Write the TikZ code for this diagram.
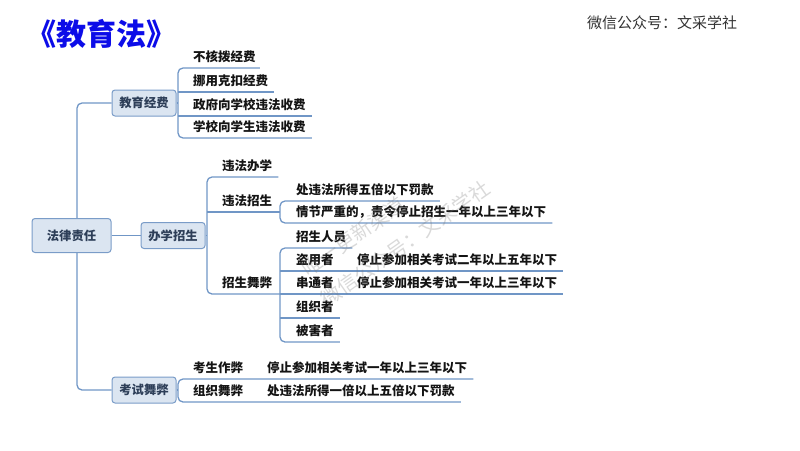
\documentclass[tikz,border=0pt]{standalone}
\usepackage{fontspec}
\setmainfont{Noto Sans CJK SC}
\usetikzlibrary{backgrounds}
\definecolor{linec}{RGB}{112,150,198}
\definecolor{boxfill}{RGB}{219,229,241}
\definecolor{boxdraw}{RGB}{122,156,200}
\definecolor{boxtext}{RGB}{45,62,88}
\definecolor{titleblue}{RGB}{12,12,232}
\definecolor{wmgray}{RGB}{120,120,120}
\begin{document}
\begin{tikzpicture}[x=1pt,y=-1pt,
  box/.style={draw=boxdraw, fill=boxfill, rounded corners=3pt, line width=1pt,
    font=\bfseries\fontsize{12.3}{14}\selectfont, text=boxtext,
    minimum width=64pt, minimum height=26pt, inner sep=0pt},
  rootbox/.style={box, minimum width=79pt, minimum height=34pt},
  kid/.style={anchor=south west, inner sep=0pt, text depth=6.25pt,
    font=\bfseries\fontsize{12.5}{14}\selectfont, text=black!92},
  link/.style={draw=linec, line width=1.3pt},
  bracket/.style={link, rounded corners=5pt},
  wm/.style={anchor=west, rotate=35, inner sep=0pt,
    font=\fontsize{20}{24}\selectfont, text=wmgray, opacity=0.28}]
\useasboundingbox (0,0) rectangle (800,450);

% titles
\node[font=\bfseries\fontsize{30}{34}\selectfont, text=titleblue] (title) at (101,34) {《教育法》};
\node[font=\fontsize{15}{18}\selectfont, text=black!80] (wx) at (662,22.5) {微信公众号：文采学社};

% main boxes
\node[rootbox] (root) at (71.5,235.5) {法律责任};
\node[box] (jy) at (144,103) {教育经费};
\node[box] (bx) at (173,235.5) {办学招生};
\node[box] (ks) at (144,390) {考试舞弊};

% 教育经费
\node[kid] (j1) at (193,68) {不核拨经费};
\node[kid] (j2) at (193,92) {挪用克扣经费};
\node[kid] (j3) at (193,116) {政府向学校违法收费};
\node[kid] (j4) at (193,138) {学校向学生违法收费};

% 办学招生
\node[kid] (b1) at (222,177) {违法办学};
\node[kid] (b2) at (222,212) {违法招生};
\node[kid] (b3) at (222,294) {招生舞弊};

\node[kid] (c1) at (296,201) {处违法所得五倍以下罚款};
\node[kid] (c2) at (296,223) {情节严重的，责令停止招生一年以上三年以下};

\node[kid] (d1) at (296,248) {招生人员};
\node[kid] (d2) at (296,271) {盗用者};
\node[kid] (d2r) at (357,271) {停止参加相关考试二年以上五年以下};
\node[kid] (d3) at (296,294) {串通者};
\node[kid] (d3r) at (357,294) {停止参加相关考试一年以上三年以下};
\node[kid] (d4) at (296,318) {组织者};
\node[kid] (d5) at (296,342) {被害者};

% 考试舞弊
\node[kid] (k1) at (193,379) {考生作弊};
\node[kid] (k1r) at (267,379) {停止参加相关考试一年以上三年以下};
\node[kid] (k2) at (193,402) {组织舞弊};
\node[kid] (k2r) at (267,402) {处违法所得一倍以上五倍以下罚款};

% watermark
\node[wm] (w1) at (304,271) {唯一更新渠道};
\node[wm] (w2) at (323,301) {微信公众号：文采学社};

\begin{scope}[on background layer]
  % trunk
  \coordinate (tk) at (77,235.5);
  \draw[bracket] (jy.west) -| (tk) |- (ks.west);
  \draw[link] (root.east) -- (bx.west);

  % 教育经费 bracket
  \coordinate (jb) at ([xshift=-15pt]j1.south west);
  \draw[bracket] ([xshift=4pt]j1.south east) -- (jb) -- (jb |- j4.south west) -- ([xshift=6pt]j4.south east);
  \draw[link] (jb |- j2.south west) -- ([xshift=6pt]j2.south east);
  \draw[link] (jb |- j3.south west) -- ([xshift=6pt]j3.south east);
  \draw[link] (jy.east) -- (jy.east -| jb);

  % 办学招生 bracket
  \coordinate (bb) at ([xshift=-15pt]b1.south west);
  \coordinate (cb) at ([xshift=-16pt]c1.south west);
  \coordinate (db) at ([xshift=-16pt]d1.south west);
  \draw[bracket] ([xshift=6pt]b1.south east) -- (bb) -- (bb |- b3.south west) -- (b3.south west -| db);
  \draw[link] (bb |- b2.south west) -- (b2.south west -| cb);
  \draw[link] (bx.east) -- (bx.east -| bb);

  % 违法招生 bracket
  \draw[bracket] ([xshift=6pt]c1.south east) -- (cb) -- (cb |- c2.south west) -- ([xshift=6pt]c2.south east);

  % 招生舞弊 bracket
  \draw[bracket] ([xshift=6pt]d1.south east) -- (db) -- (db |- d5.south west) -- ([xshift=6pt]d5.south east);
  \draw[link] (db |- d2.south west) -- ([xshift=6pt]d2r.south east);
  \draw[link] (db |- d3.south west) -- ([xshift=6pt]d3r.south east);
  \draw[link] (db |- d4.south west) -- ([xshift=6pt]d4.south east);

  % 考试舞弊 bracket
  \coordinate (kb) at ([xshift=-15pt]k1.south west);
  \draw[bracket] ([xshift=6pt]k1r.south east) -- (kb) -- (kb |- k2.south west) -- ([xshift=6pt]k2r.south east);
  \draw[link] (ks.east) -- (ks.east -| kb);
\end{scope}
\end{tikzpicture}
\end{document}
